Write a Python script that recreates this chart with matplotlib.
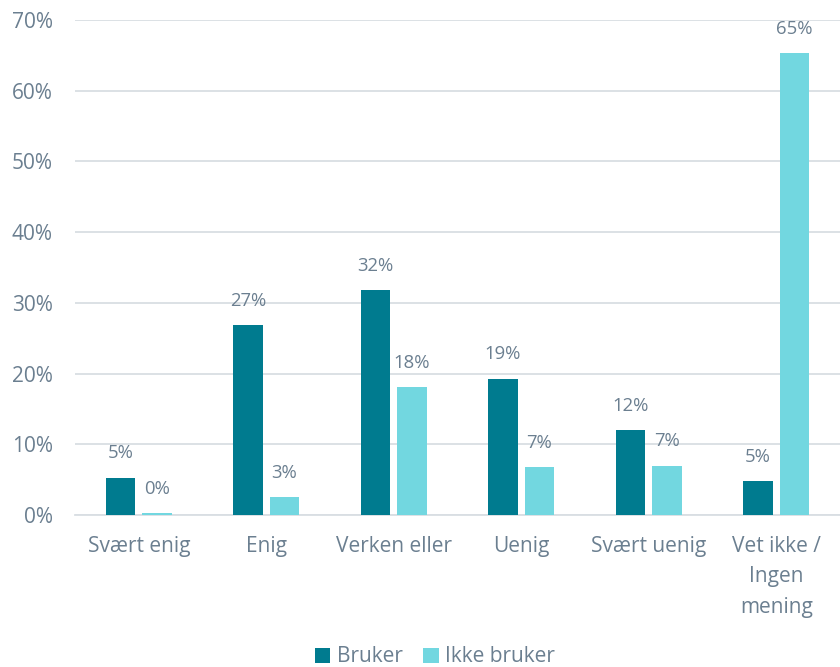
import matplotlib
matplotlib.use("Agg")
import matplotlib.pyplot as plt
import numpy as np

categories = ["Svært enig", "Enig", "Verken eller", "Uenig", "Svært uenig", "Vet ikke /\nIngen\nmening"]
bruker = [5.3, 26.9, 31.8, 19.3, 12.0, 4.8]
ikke_bruker = [0.3, 2.5, 18.1, 6.8, 7.0, 65.3]
bruker_labels = ["5%", "27%", "32%", "19%", "12%", "5%"]
ikke_labels = ["0%", "3%", "18%", "7%", "7%", "65%"]
series_names = ["Bruker", "Ikke bruker"]
yticks = [0, 10, 20, 30, 40, 50, 60, 70]

plt.rcParams['font.family'] = ['Open Sans', 'DejaVu Sans']
txt = "#6B7F90"
c1 = "#007B8F"
c2 = "#72D7E0"

fig = plt.figure(figsize=(8.4, 6.67), dpi=100)
ax = fig.add_axes([75/840, 1-515/667, 765/840, 495/667])

x = np.arange(len(categories))
w = 0.228
off = 0.143
b1 = ax.bar(x - off, bruker, w, color=c1, label=series_names[0], zorder=3)
b2 = ax.bar(x + off, ikke_bruker, w, color=c2, label=series_names[1], zorder=3)

for xi, v, l in zip(x - off, bruker, bruker_labels):
    ax.annotate(l, (xi, v), xytext=(0, 11), textcoords="offset points",
                ha="center", va="bottom", fontsize=13.3, color=txt)
for xi, v, l in zip(x + off, ikke_bruker, ikke_labels):
    ax.annotate(l, (xi, v), xytext=(0, 11), textcoords="offset points",
                ha="center", va="bottom", fontsize=13.3, color=txt)

ax.set_xlim(-0.5, len(categories) - 0.5)
ax.set_ylim(0, 70)
ax.set_yticks(yticks)
ax.set_yticklabels([f"{t}%" for t in yticks])
ax.set_xticks(x)
ax.set_xticklabels(categories, linespacing=1.6)
ax.tick_params(axis="y", length=0, pad=16, labelsize=15, labelcolor=txt)
ax.tick_params(axis="x", length=0, pad=15, labelsize=15, labelcolor=txt)
for t in ax.get_xticklabels():
    t.set_va("top")
ax.grid(axis="y", color="#D9DEE3", linewidth=1.3, zorder=0)
for s in ["top", "right", "left"]:
    ax.spines[s].set_visible(False)
ax.spines["bottom"].set_color("#D9DEE3")
ax.spines["bottom"].set_linewidth(1.3)

leg = fig.legend(handles=[b1, b2], labels=series_names, loc="center",
                 bbox_to_anchor=(435/840, 1-657/667), ncol=2, frameon=False,
                 fontsize=15, handlelength=0.75, handleheight=0.75,
                 handletextpad=0.3, columnspacing=1.0, labelcolor=txt)

fig.savefig("out.png", dpi=100)
